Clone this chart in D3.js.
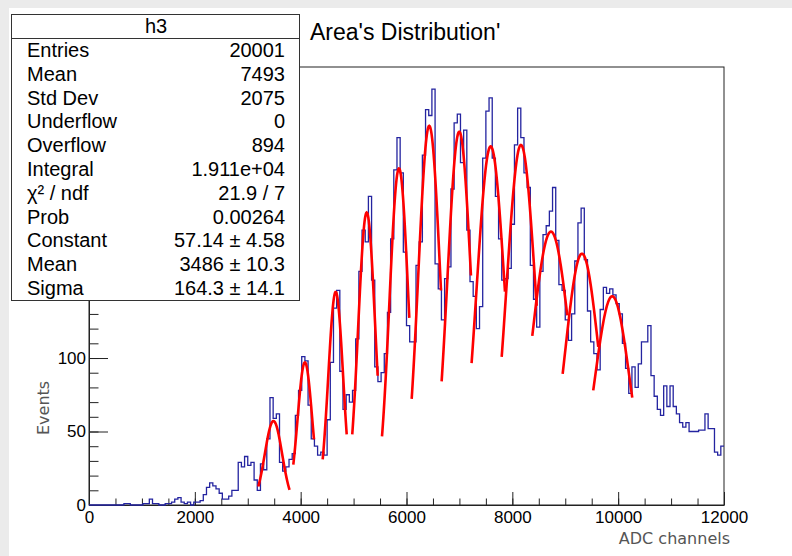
<!DOCTYPE html>
<html>
<head>
<meta charset="utf-8">
<script src="https://cdn.jsdelivr.net/npm/d3@7"></script>
<style>
  body { margin: 0; background: #fff; }
  svg { display: block; }
</style>
</head>
<body>
<div id="chart"></div>
<script>
// Histogram h3: 200 bins from 0 to 12000 ADC channels
const xMin = 0, xMax = 12000, nBins = 200;
const binCounts = [
  0, 0, 0, 0, 0, 0, 0, 0, 0, 0, 0, 1, 1, 0, 0, 0, 0, 1, 1, 4,
  1, 1, 0, 0, 1, 1, 2, 4, 5, 2, 1, 2, 0, 2, 2, 3, 7, 12, 15, 13,
  11, 8, 4, 4, 6, 10, 10, 29, 26, 33, 27, 29, 17, 10, 28, 24, 45, 73, 59, 62,
  29, 23, 26, 31, 35, 61, 78, 101, 98, 68, 45, 40, 34, 36, 34, 58, 97, 134, 146, 91,
  65, 75, 70, 78, 113, 159, 187, 179, 210, 153, 94, 84, 90, 103, 131, 181, 228, 250, 226, 172,
  122, 111, 111, 163, 179, 238, 269, 265, 283, 164, 147, 126, 154, 162, 215, 260, 266, 233, 255, 187,
  152, 142, 120, 135, 236, 268, 277, 236, 210, 181, 153, 154, 161, 191, 245, 270, 250, 226, 216, 163,
  140, 121, 159, 184, 190, 200, 216, 180, 150, 146, 126, 112, 130, 166, 192, 202, 167, 132, 111, 103,
  92, 133, 148, 144, 147, 143, 137, 130, 110, 93, 76, 94, 80, 96, 111, 111, 122, 88, 74, 65,
  61, 81, 67, 81, 67, 62, 56, 53, 56, 50, 50, 50, 51, 51, 62, 52, 52, 36, 34, 40
];

// Gaussian fits, one per peak (constant, mean, sigma, fit range)
const fitConstant = [57.14, 97, 145, 199, 229, 258, 254, 244, 245, 186, 171, 142];
const fitMean     = [3486, 4080, 4662, 5248, 5858, 6430, 6997, 7591, 8163, 8730, 9316, 9888];
const fitSigma    = [164.3, 138, 140, 162, 180, 208, 224, 265, 273, 360, 320, 328];
const fitLow      = [3200, 3861, 4416, 4975, 5537, 6098, 6664, 7230, 7799, 8377, 8951, 9529];
const fitHigh     = [3790, 4252, 4870, 5455, 6053, 6652, 7218, 7861, 8460, 9038, 9624, 10266];

// Stats box
const statTitle = "h3";
const statLabels = ["Entries", "Mean", "Std Dev", "Underflow", "Overflow", "Integral",
  "\u03c7\u00b2 / ndf", "Prob", "Constant", "Mean", "Sigma"];
const statValues = ["20001", "7493", "2075", "0", "894", "1.911e+04",
  "21.9 / 7", "0.00264", "57.14 \u00b1 4.58", "3486 \u00b1 10.3", "164.3 \u00b1 14.1"];

const xMajor = [0, 2000, 4000, 6000, 8000, 10000, 12000];
const yMajor = [0, 50, 100, 150, 200, 250];
const yLabelled = [0, 50, 100]; // the rest sit under the stats box
const yMax = 298;

const width = 792, height = 556;
const frame = {left: 89, right: 724, top: 67, bottom: 505};

const svg = d3.select("#chart").append("svg")
  .attr("width", width)
  .attr("height", height);

svg.append("rect").attr("width", width).attr("height", height).attr("fill", "#fff");
// light grey edge of the screenshot
svg.append("rect").attr("width", width).attr("height", 8).attr("fill", "#ebebeb");
svg.append("rect").attr("width", 9).attr("height", height).attr("fill", "#ebebeb");

const x = d3.scaleLinear().domain([xMin, xMax]).range([frame.left, frame.right]);
const y = d3.scaleLinear().domain([0, yMax]).range([frame.bottom, frame.top]);

const labelFont = "'Liberation Sans', Arial, Helvetica, sans-serif";

// frame
svg.append("rect")
  .attr("x", frame.left).attr("y", frame.top)
  .attr("width", frame.right - frame.left).attr("height", frame.bottom - frame.top)
  .attr("fill", "none").attr("stroke", "#222").attr("stroke-width", 1);

// x axis: major + minor ticks pointing into the frame
const xMajorLen = 13, yMajorLen = 19;
const xAxis = svg.append("g").attr("transform", `translate(0,${frame.bottom})`);
xAxis.append("g")
  .call(d3.axisBottom(x).tickValues(d3.range(0, 12001, 500)).tickSizeInner(-xMajorLen / 2).tickSizeOuter(0).tickFormat(""))
  .call(g => g.select(".domain").remove());
xAxis.append("g")
  .call(d3.axisBottom(x).tickValues(xMajor).tickSizeInner(-xMajorLen).tickSizeOuter(0).tickPadding(6).tickFormat(d3.format("d")))
  .call(g => g.select(".domain").attr("stroke", "#222"))
  .call(g => g.selectAll("text").attr("font-family", labelFont).attr("font-size", 17).attr("fill", "#000"));

const yAxis = svg.append("g").attr("transform", `translate(${frame.left},0)`);
yAxis.append("g")
  .call(d3.axisLeft(y).tickValues(d3.range(0, yMax, 10)).tickSizeInner(-yMajorLen / 2).tickSizeOuter(0).tickFormat(""))
  .call(g => g.select(".domain").remove());
yAxis.append("g")
  .call(d3.axisLeft(y).tickValues(yMajor).tickSizeInner(-yMajorLen).tickSizeOuter(0).tickPadding(3)
    .tickFormat(d => yLabelled.includes(d) ? d3.format("d")(d) : ""))
  .call(g => g.select(".domain").attr("stroke", "#222"))
  .call(g => g.selectAll("text").attr("font-family", labelFont).attr("font-size", 17).attr("fill", "#000"));
svg.selectAll(".tick line").attr("stroke", "#222");

// axis titles
svg.append("text")
  .attr("x", 730).attr("y", 544)
  .attr("text-anchor", "end")
  .attr("font-family", "'DejaVu Sans', sans-serif").attr("font-size", 16)
  .attr("fill", "#555")
  .text("ADC channels");
svg.append("text")
  .attr("transform", "translate(49,435) rotate(-90)")
  .attr("text-anchor", "start")
  .attr("font-family", "'DejaVu Sans', sans-serif").attr("font-size", 16)
  .attr("fill", "#555")
  .text("Events");

// histogram outline
const binWidth = (xMax - xMin) / nBins;
const steps = binCounts.map((c, i) => [xMin + i * binWidth, c]);
steps.push([xMax, binCounts[nBins - 1]]);
svg.append("path")
  .datum(steps)
  .attr("fill", "none")
  .attr("stroke", "#2424a0")
  .attr("stroke-width", 1.3)
  .attr("d", d3.line().x(d => x(d[0])).y(d => y(d[1])).curve(d3.curveStepAfter));

// gaussian fit curves
const fitLine = d3.line().x(d => x(d[0])).y(d => y(d[1]));
fitMean.forEach((m, k) => {
  const pts = d3.range(0, 61).map(j => {
    const v = fitLow[k] + (fitHigh[k] - fitLow[k]) * j / 60;
    return [v, fitConstant[k] * Math.exp(-0.5 * ((v - m) / fitSigma[k]) ** 2)];
  });
  svg.append("path")
    .attr("fill", "none")
    .attr("stroke", "#f00")
    .attr("stroke-width", 2.6)
    .attr("d", fitLine(pts));
});

// title
svg.append("text")
  .attr("x", 310).attr("y", 32).attr("dy", "0.35em")
  .attr("font-family", labelFont).attr("font-size", 23)
  .attr("fill", "#000")
  .text("Area's Distribution'");

// stats box
const box = {x: 11, y: 14, w: 288, h: 286, head: 24};
const statFont = 20;
const stats = svg.append("g");
stats.append("rect")
  .attr("x", box.x + 0.5).attr("y", box.y + 0.5).attr("width", box.w).attr("height", box.h)
  .attr("fill", "#fff").attr("stroke", "#333").attr("stroke-width", 1);
stats.append("line")
  .attr("x1", box.x + 0.5).attr("x2", box.x + box.w + 0.5)
  .attr("y1", box.y + box.head + 0.5).attr("y2", box.y + box.head + 0.5)
  .attr("stroke", "#333");
stats.append("text")
  .attr("x", box.x + box.w / 2 + 1).attr("y", box.y + box.head / 2).attr("dy", "0.35em")
  .attr("text-anchor", "middle")
  .attr("font-family", labelFont).attr("font-size", statFont)
  .text(statTitle);
const rowH = (box.h - box.head) / statLabels.length;
const rows = stats.selectAll("g.row").data(statLabels).join("g")
  .attr("transform", (d, i) => `translate(0,${box.y + box.head + rowH * (i + 0.5)})`)
  .attr("font-family", labelFont).attr("font-size", statFont).attr("fill", "#000");
rows.append("text").attr("x", 27).attr("dy", "0.35em").text(d => d);
rows.append("text").attr("x", 285).attr("dy", "0.35em").attr("text-anchor", "end")
  .text((d, i) => statValues[i]);
</script>
</body>
</html>
